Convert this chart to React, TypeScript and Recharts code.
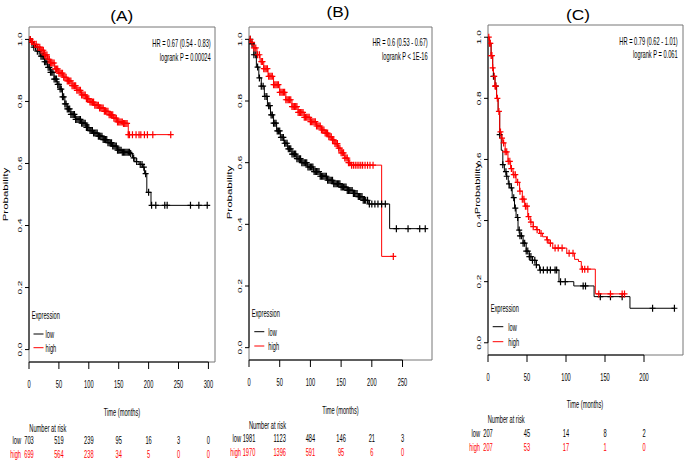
import {
  ComposedChart,
  Line,
  Scatter,
  XAxis,
  YAxis,
  ReferenceArea,
  ReferenceLine,
} from "recharts";

type Pt = [number, number];

// survival steps [months, probability]
const A_LOW: Pt[] = [
  [0, 1], [3, 0.99], [8, 0.975], [14, 0.962], [19, 0.946], [26, 0.928], [31, 0.91],
  [36, 0.894], [42, 0.872], [47, 0.855], [52, 0.84], [56, 0.815], [60, 0.792],
  [64, 0.776], [70, 0.758], [78, 0.742], [87, 0.73], [95, 0.716], [102, 0.706],
  [108, 0.698], [116, 0.688], [124, 0.677], [132, 0.667], [140, 0.656], [148, 0.643],
  [156, 0.636], [170, 0.632], [173, 0.618], [177, 0.606], [184, 0.597], [190, 0.588],
  [193, 0.567], [197, 0.507], [204, 0.465], [298, 0.465],
];
const A_HIGH: Pt[] = [
  [0, 1], [4, 0.993], [9, 0.984], [14, 0.975], [20, 0.965], [26, 0.95], [31, 0.936],
  [36, 0.924], [43, 0.905], [50, 0.891], [57, 0.878], [64, 0.866], [72, 0.851],
  [80, 0.836], [88, 0.821], [95, 0.809], [102, 0.798], [109, 0.788], [118, 0.779],
  [126, 0.768], [134, 0.757], [141, 0.746], [147, 0.734], [157, 0.729], [166, 0.693],
  [238, 0.693],
];
const A_LOW_CENS = [
  2, 5, 8, 11, 14, 17, 20, 22, 24, 26, 28, 30, 32, 34, 36, 38, 40, 42, 44, 46, 48, 50,
  52, 54, 56, 58, 60, 62, 64, 66, 68, 70, 72, 74, 76, 78, 80, 82, 84, 86, 88, 90, 92,
  94, 96, 98, 100, 102, 104, 106, 108, 110, 112, 114, 116, 118, 120, 122, 124, 126,
  128, 130, 132, 134, 136, 138, 140, 142, 144, 146, 148, 150, 152, 154, 156, 158, 160,
  162, 164, 166, 168, 170, 175, 180, 186, 189, 192, 195, 200, 205, 212, 227, 231, 270,
  284, 298,
];
const A_HIGH_CENS = [
  2, 4, 6, 9, 12, 15, 18, 20, 22, 24, 26, 28, 30, 32, 34, 36, 38, 40, 42, 44, 46, 48,
  50, 52, 54, 56, 58, 60, 62, 64, 66, 68, 70, 72, 74, 76, 78, 80, 82, 84, 86, 88, 90,
  92, 94, 96, 98, 100, 102, 104, 106, 108, 110, 112, 114, 116, 118, 120, 122, 124, 126,
  128, 130, 132, 134, 136, 138, 140, 142, 144, 146, 148, 150, 152, 154, 156, 158, 160,
  162, 164, 166, 168, 173, 179, 184, 187, 193, 198, 207, 237,
];
const A_TICKS = [0, 50, 100, 150, 200, 250, 300];
const A_RISK_LOW = [703, 519, 239, 95, 16, 3, 0];
const A_RISK_HIGH = [699, 564, 238, 34, 5, 0, 0];

const B_LOW: Pt[] = [
  [0, 1], [3, 0.985], [8, 0.95], [12, 0.91], [16, 0.875], [20, 0.848], [25, 0.815],
  [30, 0.785], [35, 0.755], [40, 0.728], [45, 0.703], [51, 0.682], [57, 0.663],
  [63, 0.645], [70, 0.628], [78, 0.613], [86, 0.6], [95, 0.586], [105, 0.571],
  [116, 0.556], [127, 0.543], [138, 0.532], [150, 0.521], [160, 0.51], [170, 0.5],
  [178, 0.49], [186, 0.478], [194, 0.466], [229, 0.386], [288, 0.386],
];
const B_HIGH: Pt[] = [
  [0, 1], [3, 0.99], [8, 0.972], [13, 0.95], [18, 0.928], [24, 0.905], [31, 0.88],
  [40, 0.853], [50, 0.828], [60, 0.804], [70, 0.782], [80, 0.763], [90, 0.747],
  [100, 0.733], [110, 0.719], [118, 0.706], [124, 0.696], [130, 0.684], [135, 0.674],
  [140, 0.662], [145, 0.647], [150, 0.632], [156, 0.615], [162, 0.6], [165, 0.592],
  [216, 0.296], [235, 0.296],
];
const B_LOW_CENS = [
  2, 5, 8, 11, 14, 17, 20, 23, 26, 29, 32, 34, 36, 38, 40, 42, 44, 46, 48, 50, 52, 54,
  56, 58, 60, 62, 64, 66, 68, 70, 72, 74, 76, 78, 80, 82, 84, 86, 88, 90, 92, 94, 96,
  98, 100, 102, 104, 106, 108, 110, 112, 114, 116, 118, 120, 122, 124, 126, 128, 130,
  132, 134, 136, 138, 140, 142, 144, 146, 148, 150, 152, 154, 156, 158, 160, 162, 164,
  166, 168, 170, 172, 174, 176, 178, 180, 182, 184, 186, 188, 190, 193, 196, 200, 205,
  210, 216, 222, 240, 259, 278, 287,
];
const B_HIGH_CENS = [
  2, 5, 8, 11, 14, 17, 20, 22, 24, 26, 28, 30, 32, 34, 36, 38, 40, 42, 44, 46, 48, 50,
  52, 54, 56, 58, 60, 62, 64, 66, 68, 70, 72, 74, 76, 78, 80, 82, 84, 86, 88, 90, 92,
  94, 96, 98, 100, 102, 104, 106, 108, 110, 112, 114, 116, 118, 120, 122, 124, 126,
  128, 130, 132, 134, 136, 138, 140, 142, 144, 146, 148, 150, 152, 154, 156, 158, 160,
  162, 164, 167, 170, 173, 176, 179, 182, 185, 189, 193, 197, 202, 235,
];
const B_TICKS = [0, 50, 100, 150, 200, 250];
const B_RISK_LOW = [1981, 1123, 484, 146, 21, 3];
const B_RISK_HIGH = [1970, 1396, 591, 95, 6, 0];

const C_LOW: Pt[] = [
  [0, 1], [2, 0.98], [4, 0.94], [6, 0.9], [7, 0.872], [9, 0.84], [11, 0.8],
  [13, 0.757], [15, 0.681], [17, 0.63], [19, 0.583], [21, 0.56], [23.5, 0.545],
  [26, 0.52], [28, 0.507], [31, 0.475], [34, 0.441], [36, 0.41], [38.5, 0.369],
  [41, 0.35], [45, 0.326], [49, 0.3], [53, 0.282], [57, 0.27], [62, 0.255],
  [66, 0.238], [91, 0.2], [110, 0.186], [136, 0.151], [182, 0.113], [240, 0.113],
];
const C_HIGH: Pt[] = [
  [0, 1], [2, 0.98], [4, 0.94], [6, 0.9], [7, 0.872], [9, 0.84], [11, 0.8],
  [13, 0.757], [15, 0.69], [17, 0.67], [19, 0.654], [22, 0.625], [25.6, 0.594],
  [29, 0.57], [32, 0.55], [36, 0.525], [40.5, 0.496], [44, 0.47], [47, 0.447],
  [51, 0.413], [54, 0.395], [58, 0.38], [62, 0.37], [66, 0.358], [70, 0.347],
  [75, 0.337], [78, 0.326], [83, 0.31], [101, 0.293], [111, 0.273], [116, 0.266],
  [119.6, 0.241], [137.6, 0.16], [176, 0.16],
];
const C_LOW_CENS = [
  7, 10, 15, 19, 23, 24, 27, 30, 33, 35, 38, 40, 41, 43, 45, 47, 49, 51, 53, 55, 57,
  60, 62, 67, 71, 76, 80, 86, 88, 93, 99, 122, 125, 144, 157, 172, 211, 239,
];
const C_HIGH_CENS = [
  1, 2, 3, 4, 5, 6, 8, 9, 10, 12, 14, 16, 18, 20, 22, 24, 26, 28, 30, 33, 35, 38, 41,
  44, 46, 48, 50, 52, 55, 58, 63, 68, 76, 80, 86, 90, 95, 104, 109, 121, 124, 128,
  142, 157, 172, 175,
];
const C_TICKS = [0, 50, 100, 150, 200];
const C_RISK_LOW = [207, 45, 14, 8, 2];
const C_RISK_HIGH = [207, 53, 17, 1, 0];

const PROB_TICKS = [0, 0.2, 0.4, 0.6, 0.8, 1.0];
const Y_DOMAIN = [-0.04, 1.04];

const RED = "#ff0000";
const SQ = 0.57; // the figure is squeezed horizontally
const FONT = "'Liberation Sans', Arial, Helvetica, sans-serif";

function stepAt(curve: Pt[], t: number) {
  let s = curve[0][1];
  for (const [ct, cs] of curve) {
    if (ct <= t) s = cs;
    else break;
  }
  return s;
}

function RText({ x, y, children, anchor = "start", size = 10, fill = "#000", rot = false, sx = SQ }: any) {
  return (
    <text
      transform={`translate(${x},${y}) scale(${sx},1)${rot ? " rotate(-90)" : ""}`}
      textAnchor={anchor}
      fontSize={size}
      fill={fill}
      fontFamily={FONT}
    >
      {children}
    </text>
  );
}

interface Panel {
  left: number;
  width: number;
  top: number;
  mr: number;
  yW: number;
  xH: number;
  fb: number;
  xMax: number;
  ticks: number[];
  low: Pt[];
  high: Pt[];
  lowCens: number[];
  highCens: number[];
  riskLow: number[];
  riskHigh: number[];
}

const PANELS: Panel[] = [
  { left: 0, width: 225, top: 27, mr: 10, yW: 29, xH: 104, fb: 362, xMax: 311, ticks: A_TICKS, low: A_LOW, high: A_HIGH, lowCens: A_LOW_CENS, highCens: A_HIGH_CENS, riskLow: A_RISK_LOW, riskHigh: A_RISK_HIGH },
  { left: 225, width: 220, top: 27, mr: 13, yW: 24, xH: 106, fb: 360, xMax: 298, ticks: B_TICKS, low: B_LOW, high: B_HIGH, lowCens: B_LOW_CENS, highCens: B_HIGH_CENS, riskLow: B_RISK_LOW, riskHigh: B_RISK_HIGH },
  { left: 460, width: 225, top: 25, mr: 2, yW: 28, xH: 111, fb: 355, xMax: 250, ticks: C_TICKS, low: C_LOW, high: C_HIGH, lowCens: C_LOW_CENS, highCens: C_HIGH_CENS, riskLow: C_RISK_LOW, riskHigh: C_RISK_HIGH },
];

const plus = (color: string) => (props: any) => {
  const { cx, cy } = props;
  if (cx == null || cy == null) return <g />;
  return (
    <path
      d={`M${cx - 3},${cy}H${cx + 3}M${cx},${cy - 3.5}V${cy + 3.5}`}
      stroke={color}
      strokeWidth={1.2}
      fill="none"
    />
  );
};

function KmPanel({ p }: { p: Panel }) {
  const lowData = p.low.map(([t, s]) => ({ t, s }));
  const highData = p.high.map(([t, s]) => ({ t, s }));
  const lowCens = p.lowCens.map((t) => ({ t, s: stepAt(p.low, t) }));
  const highCens = p.highCens.map((t) => ({ t, s: stepAt(p.high, t) }));

  const xTick = (props: any) => {
    const { x, payload } = props;
    const i = p.ticks.indexOf(payload.value);
    return (
      <g>
        <RText x={x} y={p.fb + 26} anchor="middle">{payload.value}</RText>
        <RText x={x} y={p.fb + 82} anchor="middle">{p.riskLow[i]}</RText>
        <RText x={x} y={p.fb + 96} anchor="middle" fill={RED}>{p.riskHigh[i]}</RText>
        {i === 0 && (
          <>
            <RText x={x - 8} y={p.fb + 82} anchor="end">low</RText>
            <RText x={x - 8} y={p.fb + 96} anchor="end" fill={RED}>high</RText>
          </>
        )}
      </g>
    );
  };

  const yTick = (props: any) => {
    const { y, payload } = props;
    return (
      <RText x={p.yW - 7.5} y={y} anchor="middle" rot>
        {Number(payload.value).toFixed(1)}
      </RText>
    );
  };

  const lastTick = p.ticks[p.ticks.length - 1];

  return (
    <div style={{ position: "absolute", left: p.left, top: 0 }}>
      <ComposedChart
        width={p.width}
        height={466}
        margin={{ top: p.top, right: p.mr, bottom: 0, left: 0 }}
      >
        <XAxis
          type="number"
          dataKey="t"
          domain={[0, p.xMax]}
          ticks={p.ticks}
          interval={0}
          tickSize={7}
          axisLine={false}
          tickLine={{ stroke: "#000" }}
          tick={xTick}
          height={p.xH}
          allowDataOverflow
        />
        <YAxis
          type="number"
          domain={Y_DOMAIN}
          ticks={PROB_TICKS}
          interval={0}
          tickSize={4}
          axisLine={false}
          tickLine={{ stroke: "#000" }}
          tick={yTick}
          width={p.yW}
          allowDataOverflow
        />
        <ReferenceArea
          x1={0}
          x2={p.xMax}
          y1={Y_DOMAIN[0]}
          y2={Y_DOMAIN[1]}
          fill="none"
          stroke="#777"
          ifOverflow="visible"
        />
        <ReferenceLine
          segment={[{ x: 0, y: Y_DOMAIN[0] }, { x: lastTick, y: Y_DOMAIN[0] }]}
          stroke="#000"
          ifOverflow="visible"
        />
        <ReferenceLine
          segment={[{ x: 0, y: 0 }, { x: 0, y: 1 }]}
          stroke="#000"
          ifOverflow="visible"
        />
        <Line data={lowData} dataKey="s" type="stepAfter" stroke="#000" strokeWidth={1} dot={false} isAnimationActive={false} />
        <Line data={highData} dataKey="s" type="stepAfter" stroke={RED} strokeWidth={1} dot={false} isAnimationActive={false} />
        <Scatter data={lowCens} dataKey="s" fill="#000" shape={plus("#000")} isAnimationActive={false} />
        <Scatter data={highCens} dataKey="s" fill={RED} shape={plus(RED)} isAnimationActive={false} />
      </ComposedChart>
    </div>
  );
}

function Legend({ ex, ey, lx1, lx2, tx, ly1, ly2 }: any) {
  return (
    <g>
      <RText x={ex} y={ey}>Expression</RText>
      <line x1={lx1} x2={lx2} y1={ly1} y2={ly1} stroke="#000" strokeWidth={1} />
      <RText x={tx} y={ly1 + 4}>low</RText>
      <line x1={lx1} x2={lx2} y1={ly2} y2={ly2} stroke={RED} strokeWidth={1} />
      <RText x={tx} y={ly2 + 4}>high</RText>
    </g>
  );
}

export default function App() {
  return (
    <div
      style={{
        position: "absolute",
        left: 0,
        top: 0,
        width: 685,
        height: 466,
        background: "#fff",
        overflow: "hidden",
      }}
    >
      {PANELS.map((p, i) => (
        <KmPanel key={i} p={p} />
      ))}
      <svg
        width={685}
        height={466}
        style={{ position: "absolute", left: 0, top: 0, pointerEvents: "none" }}
      >
        {/* titles */}
        <RText x={121.7} y={21} anchor="middle" size={15} sx={1.15}>(A)</RText>
        <RText x={338} y={17} anchor="middle" size={15} sx={1.15}>(B)</RText>
        <RText x={578} y={19.5} anchor="middle" size={15} sx={1.15}>(C)</RText>

        {/* hazard ratio notes */}
        <RText x={210.7} y={46.5} anchor="end">HR = 0.67 (0.54 - 0.83)</RText>
        <RText x={210.7} y={60.5} anchor="end">logrank P = 0.00024</RText>
        <RText x={427.7} y={46} anchor="end">HR = 0.6 (0.53 - 0.67)</RText>
        <RText x={427.7} y={60} anchor="end">logrank P &lt; 1E-16</RText>
        <RText x={677.7} y={44.5} anchor="end">HR = 0.79 (0.62 - 1.01)</RText>
        <RText x={677.7} y={58} anchor="end">logrank P = 0.061</RText>

        {/* y labels */}
        <RText x={7.5} y={194.5} anchor="middle" size={11.5} rot>Probability</RText>
        <RText x={231.5} y={192.5} anchor="middle" size={11.5} rot>Probability</RText>
        <RText x={480} y={188.5} anchor="middle" size={11} rot>Probability</RText>

        {/* x labels */}
        <RText x={122} y={415.5} anchor="middle">Time (months)</RText>
        <RText x={340.5} y={414} anchor="middle">Time (months)</RText>
        <RText x={585} y={408} anchor="middle">Time (months)</RText>

        <RText x={29.3} y={431.5}>Number at risk</RText>
        <RText x={249} y={429}>Number at risk</RText>
        <RText x={487.7} y={423}>Number at risk</RText>

        {/* legends */}
        <Legend ex={31.7} ey={319} lx1={33.5} lx2={43.5} tx={45.5} ly1={334} ly2={347.7} />
        <Legend ex={251.7} ey={316.5} lx1={254.3} lx2={264.3} tx={268.3} ly1={331.7} ly2={346} />
        <Legend ex={490.7} ey={312} lx1={492.7} lx2={503.3} tx={508.3} ly1={326.7} ly2={341.7} />
      </svg>
    </div>
  );
}
